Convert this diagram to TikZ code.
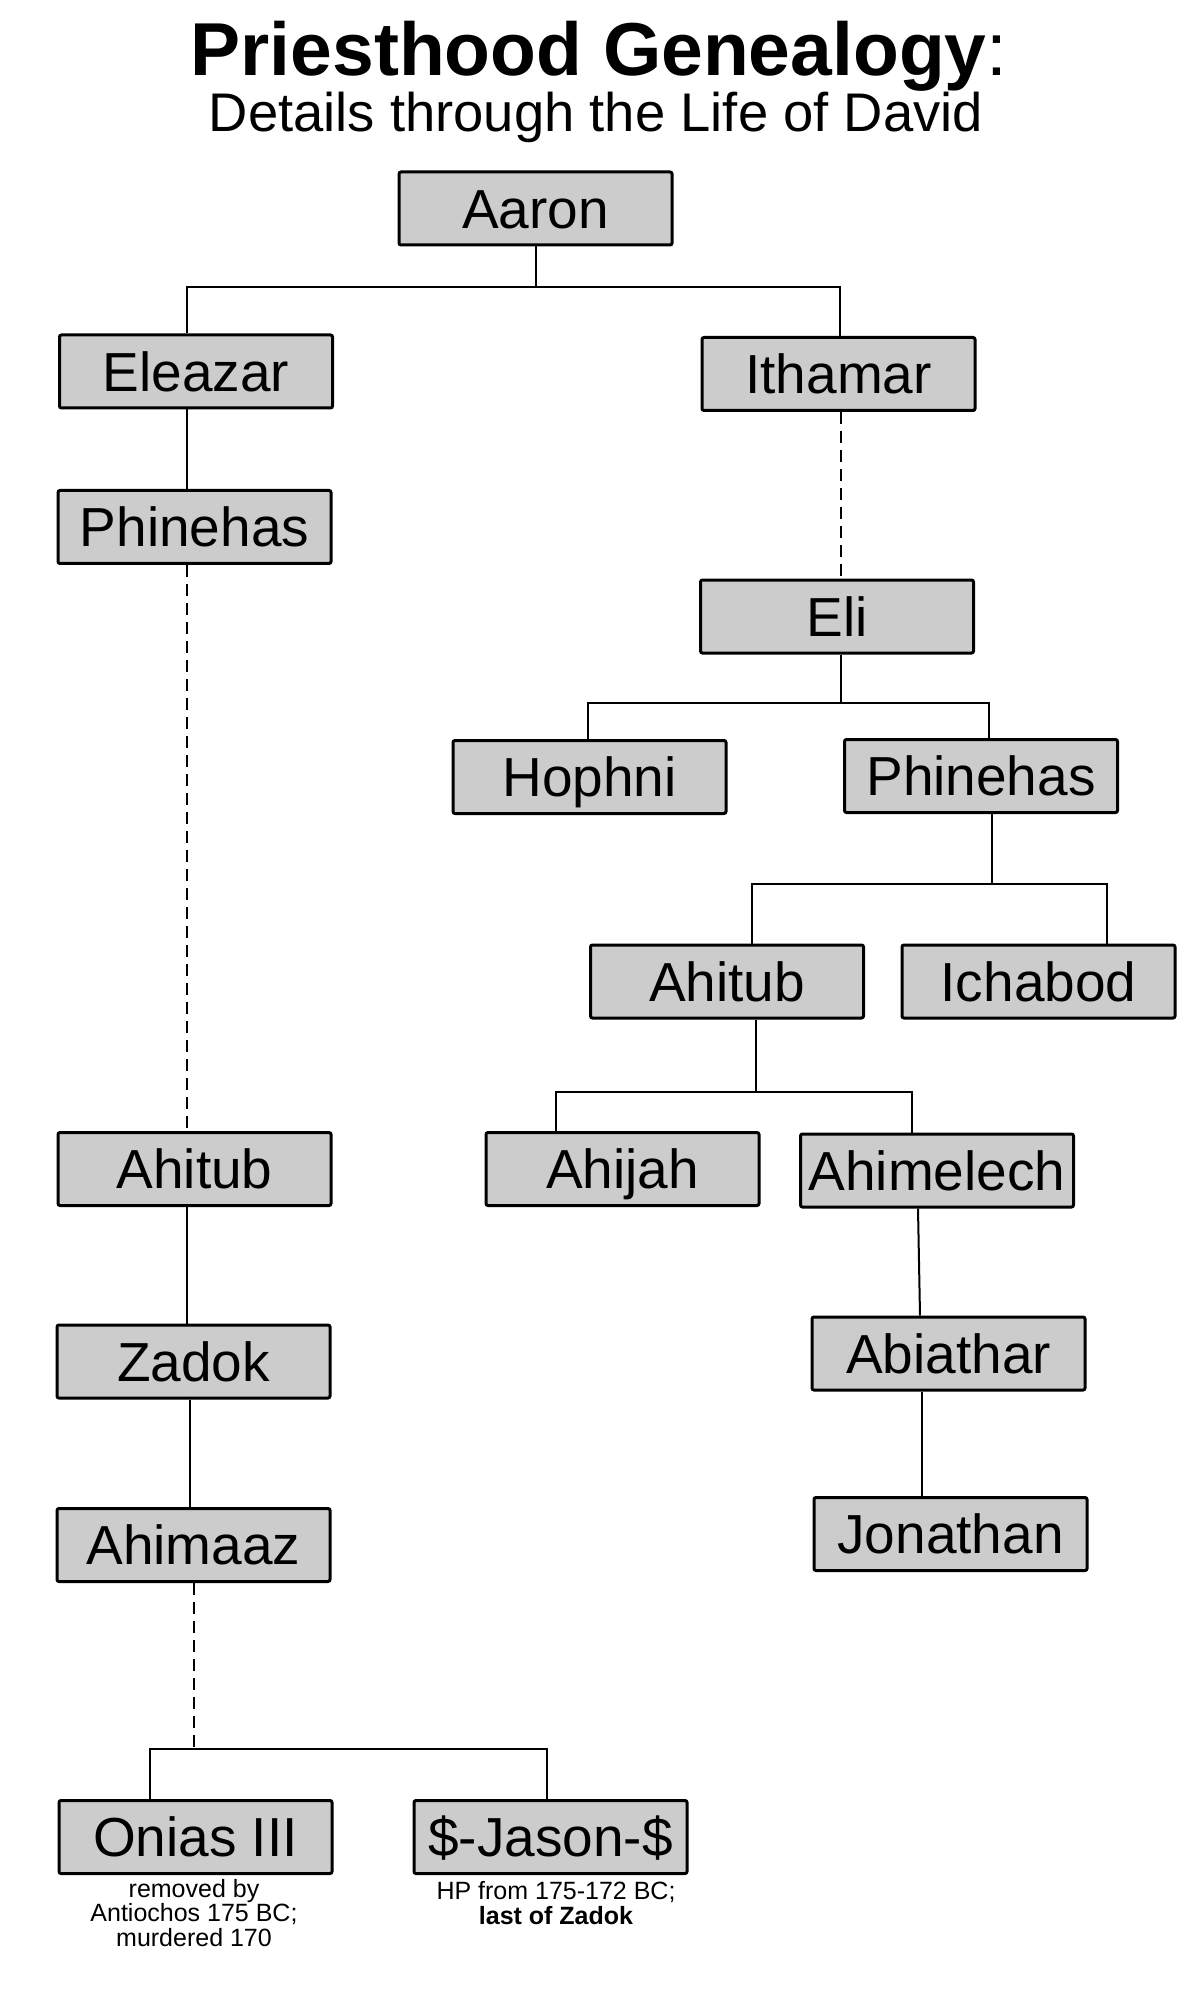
\documentclass[tikz,border=0pt]{standalone}
\usepackage{fontspec}
\setmainfont{Liberation Sans}
\definecolor{boxgray}{RGB}{204,204,204}
\begin{document}
\begin{tikzpicture}[x=0.5pt,y=-0.5pt]
\tikzset{
  box/.style={draw, line width=1.5pt, fill=boxgray, rounded corners=1pt,
    minimum width=136.5pt, minimum height=36.5pt, inner sep=0pt,
    font=\fontsize{27.5}{30}\selectfont, text height=19.7pt, text depth=0pt},
  conn/.style={line width=1pt},
  dconn/.style={line width=1pt, dash pattern=on 6pt off 3.5pt},
  note/.style={align=center, inner sep=0pt, font=\fontsize{12.5}{12.25}\selectfont},
}
\fill[white] (0,0) rectangle (1197,1989);
\useasboundingbox (0,0) rectangle (1197,1989);

% titles
\node[anchor=base, inner sep=0pt, font=\fontsize{37.5}{40}\selectfont] (title) at (599,76) {\textbf{Priesthood Genealogy}:};
\node[anchor=base, inner sep=0pt, font=\fontsize{27.2}{30}\selectfont] (subtitle) at (596,132) {Details through the Life of David};

% boxes
\node[box] (aaron)    at (535.5,208.5) {Aaron};
\node[box] (eleazar)  at (196,371.5)   {Eleazar};
\node[box] (ithamar)  at (838.5,374)   {Ithamar};
\node[box] (phinL)    at (194.5,527)   {Phinehas};
\node[box] (eli)      at (837,616.5)   {Eli};
\node[box] (hophni)   at (589.5,777)   {Hophni};
\node[box] (phinR)    at (981,776)     {Phinehas};
\node[box] (ahitubR)  at (727,981.5)   {Ahitub};
\node[box] (ichabod)  at (1038.5,981.5) {Ichabod};
\node[box] (ahijah)   at (622.5,1169)  {Ahijah};
\node[box] (ahimelech) at (937,1170.5) {Ahimelech};
\node[box] (abiathar) at (948.5,1353.5) {Abiathar};
\node[box] (jonathan) at (950.5,1534)  {Jonathan};
\node[box] (ahitubL)  at (194.5,1169)  {Ahitub};
\node[box] (zadok)    at (193.5,1361.5) {Zadok};
\node[box] (ahimaaz)  at (193.5,1545)  {Ahimaaz};
\node[box] (onias)    at (195.5,1837)  {Onias III};
\node[box] (jason)    at (550.5,1837)  {\$-Jason-\$};

% notes (base = baseline of the last line)
\node[note, anchor=base] (onote) at (194,1946) {removed by\\Antiochos 175 BC;\\murdered 170};
\node[note, anchor=base] (jnote) at (556,1924) {HP from 175-172 BC;\\\textbf{last of Zadok}};

% bus coordinates
\coordinate (aB) at (536,287);
\coordinate (aL) at (187,287);
\coordinate (aR) at (840,287);
\coordinate (zX) at (190,0);
\coordinate (oB) at (194,1749);
\coordinate (oL) at (150,1749);
\coordinate (oR) at (547,1749);
\coordinate (iX) at (841,0);
\coordinate (eB) at (841,703);
\coordinate (eL) at (588,703);
\coordinate (eR) at (989,703);
\coordinate (pB) at (992,884);
\coordinate (pL) at (752,884);
\coordinate (pR) at (1107,884);
\coordinate (tB) at (756,1092);
\coordinate (tL) at (556,1092);
\coordinate (tR) at (912,1092);
\coordinate (m1) at (918,0);
\coordinate (m2) at (920,0);
\coordinate (jX) at (922,0);

% connectors: Aaron
\draw[conn] (aaron.south -| aB) -- (aB);
\draw[conn] (eleazar.north -| aL) |- (aR) -- (ithamar.north -| aR);
% left line
\draw[conn] (eleazar.south -| aL) -- (phinL.north -| aL);
\draw[dconn] (phinL.south -| aL) -- (ahitubL.north -| aL);
\draw[conn] (ahitubL.south -| aL) -- (zadok.north -| aL);
\draw[conn] (zadok.south -| zX) -- (ahimaaz.north -| zX);
\draw[dconn] (ahimaaz.south -| oB) -- (oB);
\draw[conn] (onias.north -| oL) |- (oR) -- (jason.north -| oR);
% right line
\draw[dconn] (ithamar.south -| iX) -- (eli.north -| iX);
\draw[conn] (eli.south -| eB) -- (eB);
\draw[conn] (hophni.north -| eL) |- (eR) -- (phinR.north -| eR);
\draw[conn] (phinR.south -| pB) -- (pB);
\draw[conn] (ahitubR.north -| pL) |- (pR) -- (ichabod.north -| pR);
\draw[conn] (ahitubR.south -| tB) -- (tB);
\draw[conn] (ahijah.north -| tL) |- (tR) -- (ahimelech.north -| tR);
\draw[conn] (ahimelech.south -| m1) -- (abiathar.north -| m2);
\draw[conn] (abiathar.south -| jX) -- (jonathan.north -| jX);
\end{tikzpicture}
\end{document}
